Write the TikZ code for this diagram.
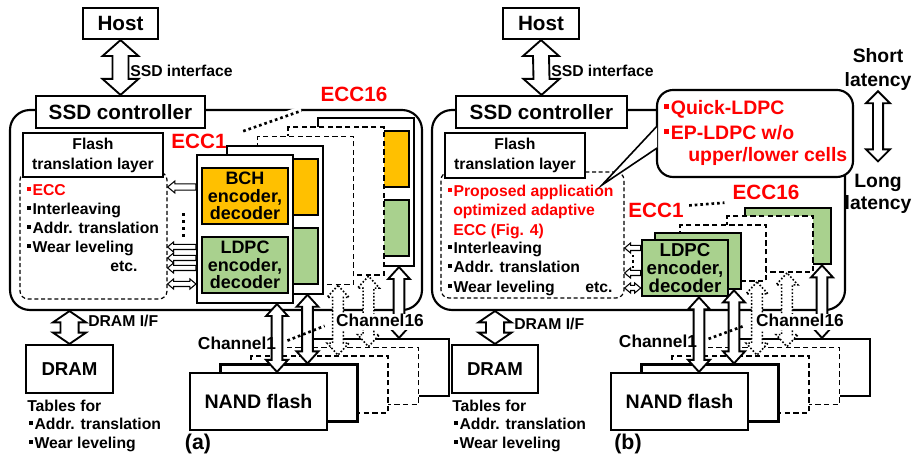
\documentclass[tikz,border=0pt]{standalone}
\usepackage{fontspec}
\setmainfont{Liberation Sans}
\usetikzlibrary{fit,calc}

\definecolor{eccorange}{HTML}{FFC000}
\definecolor{eccgreen}{HTML}{A9D18E}
\definecolor{eccred}{HTML}{FF0000}

\newcommand{\sqb}{\rule[.3em]{.22em}{.22em}\hspace{.12em}}

% hollow arrows: [style]{from}{to}{shaft half width}{head half width}{head length}
\newcommand{\vdarrow}[6][]{%
  \draw[harrow,#1] let \p1=#2, \p2=#3 in
    (\x1,\y1) -- ++(-#5,-#6) -- ++(#5-#4,0pt) -- (\x2-#4,\y2+#6) -- ++(#4-#5,0pt)
    -- (\x2,\y2) -- ++(#5,#6) -- ++(#4-#5,0pt) -- (\x1+#4,\y1-#6) -- ++(#5-#4,0pt) -- cycle;}
\newcommand{\hlarrow}[6][]{%
  \draw[harrow,#1] let \p1=#2, \p2=#3 in
    (\x2,\y2) -- ++(#6,#5) -- ++(0pt,#4-#5) -- (\x1,\y1+#4) -- (\x1,\y1-#4)
    -- (\x2+#6,\y2-#4) -- ++(0pt,#4-#5) -- cycle;}
\newcommand{\hdarrow}[6][]{%
  \draw[harrow,#1] let \p1=#2, \p2=#3 in
    (\x2,\y2) -- ++(#6,#5) -- ++(0pt,#4-#5) -- (\x1-#6,\y1+#4) -- ++(0pt,#5-#4)
    -- (\x1,\y1) -- ++(-#6,-#5) -- ++(0pt,#5-#4) -- (\x2+#6,\y2-#4) -- ++(0pt,#4-#5) -- cycle;}

\begin{document}
\begin{tikzpicture}[x=0.75pt,y=-0.75pt,
  frame/.style={draw, line width=1.6pt, rounded corners=15pt, inner sep=0pt},
  box/.style={draw, line width=1.6pt, fill=white, inner sep=0pt},
  layer/.style={box},
  dlayer/.style={box, line width=1.3pt, dash pattern=on 4pt off 2.5pt},
  glayer/.style={box, fill=eccgreen, line width=2pt},
  cbox/.style={box, line width=1.8pt},
  qbox/.style={box, rounded corners=12pt},
  zone/.style={draw, line width=.9pt, dash pattern=on 3pt off 2pt, rounded corners=6pt, inner sep=0pt},
  harrow/.style={draw, fill=white, line width=1.4pt, line join=miter},
  sarrow/.style={harrow, line width=.8pt},
  dotarrow/.style={dash pattern=on 1.2pt off 1.4pt, line width=1.2pt},
  lab/.style={inner sep=0pt, text height=1.6ex, text depth=.35ex},
  fbig/.style={font=\bfseries\fontsize{15.5pt}{17pt}\selectfont},
  fmid/.style={font=\bfseries\fontsize{11.8pt}{15pt}\selectfont},
  fch/.style={font=\bfseries\fontsize{13pt}{15pt}\selectfont},
  fcode/.style={align=center, font=\bfseries\fontsize{13.5pt}{13.2pt}\selectfont},
  fred/.style={text=eccred},
  dotlink/.style={line width=2pt, dash pattern=on 2pt off 2.2pt},
  gaplink/.style={dotlink, preaction={draw=white, line width=7pt, solid}}
]
\useasboundingbox (0,0) rectangle (914,459);

%% ---------------- (a) ----------------
\node[frame, fit={(10,110) (422,310)}] (bodyA) {};
\node[box, fit={(36,96) (205,128)}] (ctrlA) {};
\node[fbig] (ctrlAt) at (ctrlA) {SSD controller};
\node[box, fit={(83,8) (158,39)}] (hostA) {};
\node[fbig] (hostAt) at (hostA) {Host};
\vdarrow{(hostA.south)}{(ctrlA.north)}{6pt}{13.5pt}{12pt}
\node[lab, fmid, anchor=west] (sifA) at (130,72) {SSD interface};

\node[zone, fit={(20,172) (167,299)}] (zoneA) {};
\node[box, line width=.9pt, fit={(23,133) (163,177)}] (ftlA) {};
\node[fmid, align=center] (ftlAt) at (ftlA) {Flash\\translation layer};
\node[lab, fmid, fred, anchor=west] (itA1) at (27,191) {\sqb ECC};
\node[lab, fmid, anchor=west] (itA2) at (27,210) {\sqb Interleaving};
\node[lab, fmid, anchor=west] (itA3) at (27,229) {\sqb Addr. translation};
\node[lab, fmid, anchor=west] (itA4) at (27,248) {\sqb Wear leveling};
\node[lab, fmid, anchor=west] (etcA) at (110,267) {etc.};

% ECC engines, back to front
\foreach \i/\sty/\fil in {4/layer/1, 3/dlayer/0, 2/dlayer/0, 1/layer/1, 0/layer/1} {
  \node[\sty, fit={(197+30.25*\i,155-9.25*\i) (293+30.25*\i,303-9.25*\i)}] (eccA\i) {};
  \ifnum\fil=1
    \node[cbox, fill=eccorange, fit={(202+30.25*\i,168-9.25*\i) (288+30.25*\i,224-9.25*\i)}] (bchA\i) {};
    \node[cbox, fill=eccgreen, fit={(202+30.25*\i,237-9.25*\i) (288+30.25*\i,293-9.25*\i)}] (ldpcA\i) {};
  \fi
}
\node[fcode] (bchAt) at (bchA0) {BCH\\encoder,\\decoder};
\node[fcode] (ldpcAt) at (ldpcA0) {LDPC\\encoder,\\decoder};

\hlarrow[sarrow]{(eccA0.west |- 0,187)}{(zoneA.east |- 0,187)}{2.3pt}{4.5pt}{5.5pt}
\foreach \yy in {247,258,268} {\hlarrow[sarrow]{(eccA0.west |- 0,\yy)}{(zoneA.east |- 0,\yy)}{1.9pt}{3.8pt}{4.5pt}}
\hdarrow[sarrow]{(eccA0.west |- 0,284)}{(zoneA.east |- 0,284)}{1.9pt}{3.8pt}{4.5pt}
\foreach \yy in {213,220,227,234} {\fill (181.5,\yy) rectangle ++(3,3);}

\node[lab, fbig, fred] (eccAl1) at (199,144) {ECC1};
\node[lab, fbig, fred] (eccAl16) at (354,97) {ECC16};
\draw[gaplink, shorten <=13pt, shorten >=15pt] (eccAl1.north east) -- (eccAl16.south west);

% NAND flash, back to front
\foreach \i/\sty in {4/layer, 3/dlayer, 2/dlayer, 1/layer, 0/layer}
  \node[\sty, fit={(190+30.5*\i,373-8.5*\i) (327+30.5*\i,430-8.5*\i)}] (nandA\i) {};
\node[font=\bfseries\fontsize{14.7pt}{17pt}\selectfont] (nandAt) at (nandA0) {NAND flash};

\foreach \i/\sty in {4/solid, 3/dotarrow, 2/dotarrow, 1/solid, 0/solid}
  {\vdarrow[\sty]{(277+30.5*\i,0 |- eccA\i.south)}{(277+30.5*\i,0 |- nandA\i.north)}{4pt}{8.2pt}{9pt}}

\node[lab, fch] (chA1) at (237,345) {Channel1};
\node[lab, fch, fill=white, inner sep=1pt] (chA16) at (380,322) {Channel16};
\draw[dotlink, shorten <=9pt, shorten >=8pt] (chA1.east) -- (chA16.west);

\node[box, fit={(26,345) (113,393)}] (dramA) {};
\node[font=\bfseries\fontsize{14pt}{16pt}\selectfont] (dramAt) at (dramA) {DRAM};
\vdarrow{(dramA.north |- bodyA.south)}{(dramA.north)}{6.8pt}{12.4pt}{8.5pt}
\node[lab, fmid, anchor=west] (difA) at (88,322) {DRAM I/F};
\node[lab, fmid, anchor=west] (tabA1) at (27,407) {Tables for};
\node[lab, fmid, anchor=west] (tabA2) at (29,425) {\sqb Addr. translation};
\node[lab, fmid, anchor=west] (tabA3) at (29,444) {\sqb Wear leveling};
\node[lab, font=\bfseries\fontsize{16pt}{18pt}\selectfont] (capA) at (198,445) {(a)};

%% ---------------- (b) ----------------
\node[frame, fit={(432,110) (845,310)}] (bodyB) {};
\node[box, fit={(456,96) (627,128)}] (ctrlB) {};
\node[fbig] (ctrlBt) at (ctrlB) {SSD controller};
\node[box, fit={(503,8) (579,39)}] (hostB) {};
\node[fbig] (hostBt) at (hostB) {Host};
\vdarrow{(hostB.south)}{(ctrlB.north)}{6pt}{13.5pt}{12pt}
\node[lab, fmid, anchor=west] (sifB) at (551,72) {SSD interface};

\node[zone, fit={(441,172) (624,298)}] (zoneB) {};
\node[box, line width=.9pt, fit={(445,133) (585,178)}] (ftlB) {};
\node[fmid, align=center] (ftlBt) at (ftlB) {Flash\\translation layer};
\node[lab, fmid, fred, anchor=west] (itB1) at (448,192) {\sqb Proposed application};
\node[lab, fmid, fred, anchor=west] (itB2) at (453,211) {optimized adaptive};
\node[lab, fmid, fred, anchor=west] (itB3) at (453,231) {ECC (Fig. 4)};
\node[lab, fmid, anchor=west] (itB4) at (448,249) {\sqb Interleaving};
\node[lab, fmid, anchor=west] (itB5) at (448,268) {\sqb Addr. translation};
\node[lab, fmid, anchor=west] (itB6) at (448,288) {\sqb Wear leveling};
\node[lab, fmid, anchor=west] (etcB) at (585,288) {etc.};

\node[qbox, fit={(657,90) (853,177)}] (quick) {};
\node[lab, font=\bfseries\fontsize{14.6pt}{17pt}\selectfont, fred, anchor=west] (qk1) at (664,110) {\sqb Quick-LDPC};
\node[lab, font=\bfseries\fontsize{14.6pt}{17pt}\selectfont, fred, anchor=west] (qk2) at (664,135) {\sqb EP-LDPC w/o};
\node[lab, font=\bfseries\fontsize{14.6pt}{17pt}\selectfont, fred, anchor=west] (qk3) at (688,157) {upper/lower cells};
\coordinate (callTip) at (602,185);
\draw[box, line width=1.2pt, line join=miter] ($(quick.west |- 0,126)+(1.2,0)$) -- (callTip) -- ($(quick.west |- 0,148)+(1.2,0)$);

\foreach \i/\xx/\yy/\sty in {4/745/208/glayer, 3/727/216/dlayer, 2/680/225/dlayer, 1/655/233/glayer, 0/642/240/glayer}
  \node[\sty, fit={(\xx,\yy) (\xx+86,\yy+56)}] (eccB\i) {};
\node[align=center, font=\bfseries\fontsize{14pt}{13.8pt}\selectfont] (ldpcB) at (eccB0) {LDPC\\encoder,\\decoder};

\hlarrow[sarrow]{(eccB0.west |- 0,248)}{(zoneB.east |- 0,248)}{1.9pt}{3.8pt}{4.5pt}
\hlarrow[sarrow]{(eccB0.west |- 0,273)}{(zoneB.east |- 0,273)}{1.9pt}{3.8pt}{4.5pt}
\hdarrow[sarrow]{(eccB0.west |- 0,288)}{(zoneB.east |- 0,288)}{1.9pt}{3.8pt}{4.5pt}
\foreach \yy in {255,260.5,266} {\fill (632,\yy) rectangle ++(2.2,2.2);}

\node[lab, fbig, fred] (eccBl1) at (656,213) {ECC1};
\node[lab, fbig, fred] (eccBl16) at (766,195) {ECC16};
\draw[dotlink, shorten <=4pt, shorten >=6pt] (eccBl1.north east) -- (eccBl16.south west);

\foreach \i/\sty in {4/layer, 3/dlayer, 2/dlayer, 1/layer, 0/layer}
  \node[\sty, fit={(611+30.5*\i,373-8.5*\i) (748+30.5*\i,430-8.5*\i)}] (nandB\i) {};
\node[font=\bfseries\fontsize{14.7pt}{17pt}\selectfont] (nandBt) at (nandB0) {NAND flash};

\foreach \i/\xx/\sty in {4/822/solid, 3/787/dotarrow, 2/757/dotarrow, 1/734/solid, 0/699/solid}
  {\vdarrow[\sty]{(\xx,0 |- eccB\i.south)}{(\xx,0 |- nandB\i.north)}{4pt}{8.2pt}{9pt}}

\node[lab, fch] (chB1) at (658,343) {Channel1};
\node[lab, fch, fill=white, inner sep=1pt] (chB16) at (800,322) {Channel16};
\draw[dotlink, shorten <=9pt, shorten >=8pt] (chB1.east) -- (chB16.west);

\node[box, fit={(452,345) (538,393)}] (dramB) {};
\node[font=\bfseries\fontsize{14pt}{16pt}\selectfont] (dramBt) at (dramB) {DRAM};
\vdarrow{(dramB.north |- bodyB.south)}{(dramB.north)}{6.8pt}{12.4pt}{8.5pt}
\node[lab, fmid, anchor=west] (difB) at (514,325) {DRAM I/F};
\node[lab, fmid, anchor=west] (tabB1) at (452,407) {Tables for};
\node[lab, fmid, anchor=west] (tabB2) at (454,425) {\sqb Addr. translation};
\node[lab, fmid, anchor=west] (tabB3) at (454,444) {\sqb Wear leveling};
\node[lab, font=\bfseries\fontsize{16pt}{18pt}\selectfont] (capB) at (628,445) {(b)};

% latency scale
\node[align=center, inner sep=0pt, font=\bfseries\fontsize{14.5pt}{18pt}\selectfont] (shortL) at (878,70) {Short\\latency};
\node[align=center, inner sep=0pt, font=\bfseries\fontsize{14.5pt}{16pt}\selectfont] (longL) at (878,194) {Long\\latency};
\vdarrow{(shortL.south)}{($(longL.north)+(0,-13)$)}{3.8pt}{9pt}{9pt}
\end{tikzpicture}
\end{document}
